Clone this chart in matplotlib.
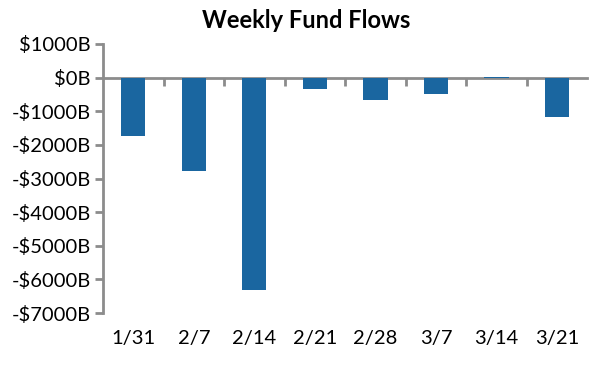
import matplotlib.pyplot as plt
import numpy as np

plt.rcParams['font.family'] = ['Lato', 'DejaVu Sans']

weeks = ['1/31', '2/7', '2/14', '2/21', '2/28', '3/7', '3/14', '3/21']
flows = [-1750, -2770, -6320, -340, -680, -500, 15, -1170]
yticks = [1000, 0, -1000, -2000, -3000, -4000, -5000, -6000, -7000]

grey = '#8c8c8c'
fig = plt.figure(figsize=(5.89, 3.75), dpi=100)
ax = fig.add_axes([0.175, 0.165, 0.822, 0.718])

x = np.arange(len(weeks))
ax.bar(x, flows, width=0.4, color='#1a66a0')

ax.set_ylim(-7000, 1000)
ax.set_xlim(-0.5, len(weeks) - 0.5)
ax.set_yticks(yticks)
ax.set_yticklabels([('-' if v < 0 else '') + '$' + str(abs(v)) + 'B' for v in yticks])
ax.set_xticks(x)
ax.set_xticklabels(weeks)

for s in ['top', 'right', 'bottom']:
    ax.spines[s].set_visible(False)
ax.spines['left'].set_color(grey)
ax.spines['left'].set_linewidth(2)
ax.tick_params(axis='y', colors=grey, width=2, length=6, labelsize=14.5, labelcolor='black', pad=3)
ax.tick_params(axis='x', length=0, labelsize=14.5, pad=12)

# zero line with category boundary ticks
zero = (0 - ax.get_ylim()[0]) / (ax.get_ylim()[1] - ax.get_ylim()[0])
sec = ax.secondary_xaxis(zero)
sec.set_xticks(x[:-1] + 0.5)
sec.set_xticklabels([])
for s in sec.spines.values():
    s.set_color(grey)
    s.set_linewidth(2)
sec.xaxis.set_ticks_position('bottom')
sec.tick_params(axis='x', direction='out', colors=grey, width=2, length=6,
                bottom=True, top=False)

fig.text(0.52, 0.925, 'Weekly Fund Flows', ha='center', fontsize=17, fontweight='bold')

fig.savefig('out.png', dpi=100)
